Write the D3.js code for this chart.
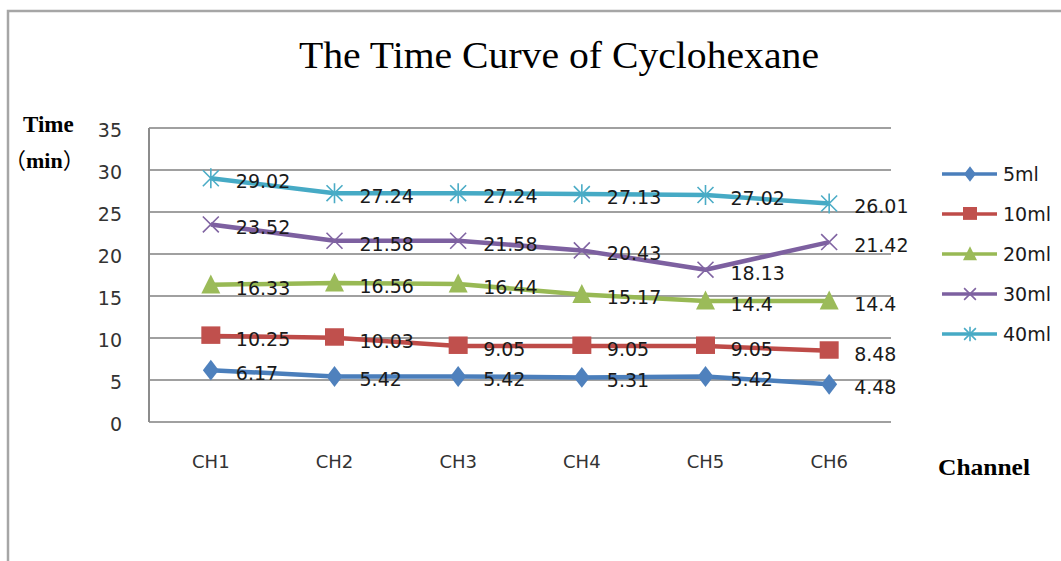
<!DOCTYPE html>
<html><head><meta charset="utf-8">
<script src="https://cdn.jsdelivr.net/npm/d3@7"></script>
<style>html,body{margin:0;padding:0;background:#fff;}svg{display:block;}</style>
</head><body>
<svg id="chart" width="1061" height="561"></svg>
<script>
const categories = ["CH1","CH2","CH3","CH4","CH5","CH6"];
const seriesNames = ["5ml","10ml","20ml","30ml","40ml"];
const s5ml  = [6.17, 5.42, 5.42, 5.31, 5.42, 4.48];
const s10ml = [10.25, 10.03, 9.05, 9.05, 9.05, 8.48];
const s20ml = [16.33, 16.56, 16.44, 15.17, 14.4, 14.4];
const s30ml = [23.52, 21.58, 21.58, 20.43, 18.13, 21.42];
const s40ml = [29.02, 27.24, 27.24, 27.13, 27.02, 26.01];
const yTicks = [0,5,10,15,20,25,30,35];
const title = "The Time Curve of Cyclohexane";

const seriesValues = [s5ml, s10ml, s20ml, s30ml, s40ml];
const lineColors = ["#4a7ebb","#be4b48","#98b954","#7d60a0","#46aac5"];
const markerColors = ["#4f81bd","#c0504d","#9bbb59","#8064a2","#4bacc6"];
const markerTypes = ["diamond","square","triangle","x","star"];

const svg = d3.select("#chart");
// outer frame
svg.append("path").attr("d","M8,561 L8,11 L1061,11").attr("fill","none").attr("stroke","#a6a6a6").attr("stroke-width",2.5);

const x = d3.scaleBand().domain(categories).range([149, 891]);
const y = d3.scaleLinear().domain([0,35]).range([422,128]);

// gridlines
svg.append("g").selectAll("line").data(yTicks).join("line")
  .attr("x1",149).attr("x2",891).attr("y1",d=>y(d)).attr("y2",d=>y(d))
  .attr("stroke","#a0a0a0").attr("stroke-width",2);
// y axis line
svg.append("line").attr("x1",149).attr("x2",149).attr("y1",y(35)).attr("y2",y(0)).attr("stroke","#8c8c8c").attr("stroke-width",2);

// y tick labels
const yAxis = d3.axisLeft(y).tickValues(yTicks).tickSize(0).tickPadding(0);
const ya = svg.append("g").attr("transform","translate(122,0)").call(yAxis);
ya.select(".domain").remove();
ya.selectAll("text").attr("font-family","DejaVu Sans").attr("font-size",19).attr("fill","#333").attr("dy","0.45em");

// x labels
const xAxis = d3.axisBottom(x).tickSize(0).tickPadding(0);
const xa = svg.append("g").attr("transform","translate(0,458)").call(xAxis);
xa.select(".domain").remove();
xa.selectAll("text").attr("font-family","DejaVu Sans").attr("font-size",18).attr("fill","#333").attr("dy","0.55em");

// title
svg.append("text").attr("x",559).attr("y",68).attr("text-anchor","middle")
  .attr("font-family","Liberation Serif").attr("font-size",38).attr("fill","#000")
  .attr("textLength",520).attr("lengthAdjust","spacingAndGlyphs").text(title);
// axis titles
svg.append("text").attr("x",23).attr("y",132).attr("font-family","Liberation Serif").attr("font-weight","bold").attr("font-size",23).text("Time");
const minT = svg.append("text").attr("x",4).attr("y",168).attr("font-family","Liberation Serif").attr("font-weight","bold").attr("font-size",22);
minT.append("tspan").attr("font-family","Noto Sans CJK SC").attr("font-weight","normal").text("（");
minT.append("tspan").text("min");
minT.append("tspan").attr("font-family","Noto Sans CJK SC").attr("font-weight","normal").text("）");
svg.append("text").attr("x",938).attr("y",475).attr("font-family","Liberation Serif").attr("font-weight","bold").attr("font-size",24)
  .attr("textLength",92).attr("lengthAdjust","spacingAndGlyphs").text("Channel");

function drawMarker(g, type, cx, cy, s, fill, stroke) {
  if (type === "diamond") {
    g.append("path").attr("d",`M${cx},${cy-s*0.55} L${cx+s*0.42},${cy} L${cx},${cy+s*0.55} L${cx-s*0.42},${cy} Z`).attr("fill",fill);
  } else if (type === "square") {
    g.append("rect").attr("x",cx-s/2).attr("y",cy-s/2).attr("width",s).attr("height",s*0.92).attr("fill",fill);
  } else if (type === "triangle") {
    g.append("path").attr("d",`M${cx},${cy-s*0.55} L${cx+s*0.5},${cy+s*0.45} L${cx-s*0.5},${cy+s*0.45} Z`).attr("fill",fill);
  } else if (type === "x") {
    const h = s*0.42;
    g.append("path").attr("d",`M${cx-h},${cy-h} L${cx+h},${cy+h} M${cx+h},${cy-h} L${cx-h},${cy+h}`).attr("stroke",stroke).attr("stroke-width",1.6).attr("fill","none");
  } else if (type === "star") {
    const h = s*0.42;
    g.append("path").attr("d",`M${cx-h},${cy-h} L${cx+h},${cy+h} M${cx+h},${cy-h} L${cx-h},${cy+h} M${cx},${cy-h*1.25} L${cx},${cy+h*1.25}`).attr("stroke",stroke).attr("stroke-width",1.6).attr("fill","none");
  }
}

const line = d3.line().x((d,i)=>x(categories[i])+x.bandwidth()/2).y(d=>y(d));
seriesValues.forEach((vals, si) => {
  const g = svg.append("g");
  g.append("path").datum(vals).attr("d",line).attr("fill","none").attr("stroke",lineColors[si]).attr("stroke-width",4.5).attr("stroke-linejoin","round");
  vals.forEach((v,i) => {
    const cx = x(categories[i])+x.bandwidth()/2, cy = y(v);
    drawMarker(g, markerTypes[si], cx, cy, 19, markerColors[si], markerColors[si]);
  });
  g.selectAll("text").data(vals).join("text")
    .attr("x",(d,i)=>x(categories[i])+x.bandwidth()/2+25)
    .attr("y",d=>y(d)+3).attr("dy","0.36em")
    .attr("font-family","DejaVu Sans").attr("font-size",19).attr("fill","#1a1a1a")
    .text(d=>d);
});

// legend
const lg = svg.append("g");
seriesNames.forEach((name, si) => {
  const ly = 174 + si*40;
  lg.append("line").attr("x1",942).attr("x2",997).attr("y1",ly).attr("y2",ly).attr("stroke",lineColors[si]).attr("stroke-width",3.5);
  drawMarker(lg, markerTypes[si], 970, ly, 14, markerColors[si], markerColors[si]);
  lg.append("text").attr("x",1003).attr("y",ly).attr("dy","0.36em").attr("font-family","DejaVu Sans").attr("font-size",19).attr("fill","#1a1a1a").text(name);
});
</script>
</body></html>
